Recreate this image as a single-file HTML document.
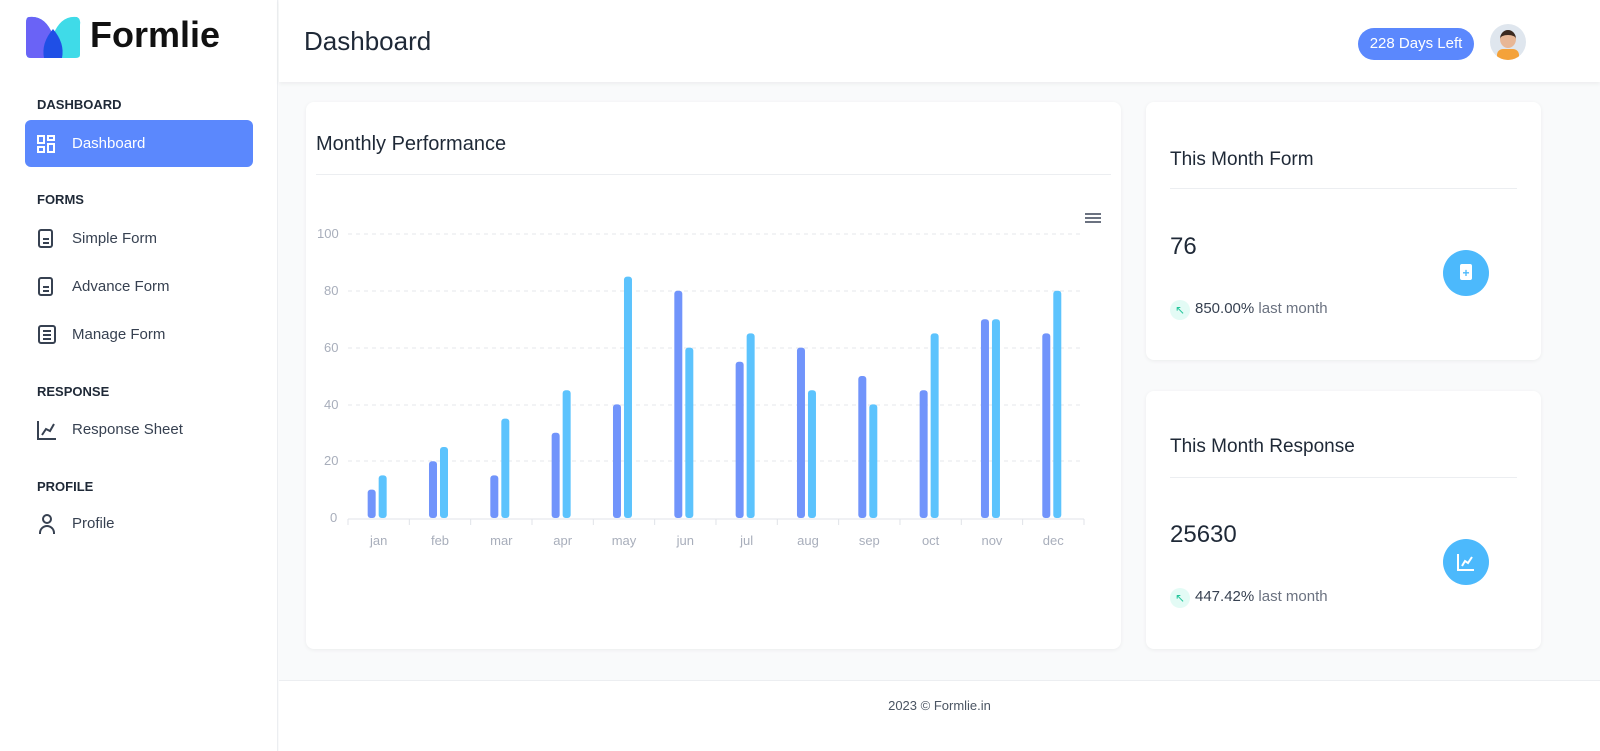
<!DOCTYPE html>
<html><head><meta charset="utf-8"><style>
*{box-sizing:border-box;margin:0;padding:0}
body{width:1600px;height:751px;background:#f9fafb;font-family:"Liberation Sans",sans-serif;position:relative;overflow:hidden;color:#1f2937}
.side{position:absolute;left:0;top:0;width:278px;height:751px;background:#fff;border-right:1px solid #eceef1}
.sec{position:absolute;left:37px;font-size:13px;font-weight:bold;color:#1f2937}
.item{position:absolute;left:25px;width:228px;height:47px;border-radius:6px;font-size:15px;color:#374151;padding-left:47px;line-height:47px}
.item.act{background:#5b88fd;color:#fff}
.ic{position:absolute;left:13px;top:14px;width:18px;height:19px;border:2px solid #374151;border-radius:3px}
.ln{position:absolute;left:3px;width:8px;height:2px;background:#374151}
.top{position:absolute;left:279px;top:0;right:0;height:82px;background:#fff;box-shadow:0 2px 4px rgba(0,0,0,.05)}
.card{position:absolute;background:#fff;border-radius:8px;box-shadow:0 1px 4px rgba(0,0,0,.06)}
.foot{position:absolute;left:279px;right:0;top:680px;height:71px;background:#fff;border-top:1px solid #eceef1;text-align:center;font-size:13px;color:#4b5563;line-height:50px}
.circ{position:absolute;width:46px;height:46px;border-radius:50%;background:#4cb9fc}
</style></head><body>
<div class="side">
 <svg style="position:absolute;left:25px;top:15px" width="56" height="44"><path d="M4 2 Q20 0 28 20 Q36 0 52 2 Q56 4 55 10 L55 40 Q55 43 50 43 L6 43 Q1 43 1 38 L1 8 Q1 2 4 2Z" fill="#3fdbe8"/><path d="M4 2 Q20 0 28 20 L28 43 L6 43 Q1 43 1 38 L1 8 Q1 2 4 2Z" fill="#6a63f6"/><path d="M28 14 Q40 28 37 43 L19 43 Q16 28 28 14Z" fill="#1f4fe6"/></svg>
 <div style="position:absolute;left:90px;top:14px;font-size:36px;font-weight:bold;color:#111">Formlie</div>
 <div class="sec" style="top:97px">DASHBOARD</div>
 <div class="item act" style="top:120px"><svg style="position:absolute;left:12px;top:15px" width="18" height="18" fill="none" stroke="#fff" stroke-width="2"><rect x="1" y="1" width="6" height="7"/><rect x="11" y="1" width="6" height="4"/><rect x="1" y="12" width="6" height="5"/><rect x="11" y="9" width="6" height="8"/></svg>Dashboard</div>
 <div class="sec" style="top:192px">FORMS</div>
 <div class="item" style="top:215px"><span class="ic" style="width:15px"><i class="ln" style="top:7px;width:6px"></i><i class="ln" style="top:11px;width:6px"></i></span>Simple Form</div>
 <div class="item" style="top:263px"><span class="ic" style="width:15px"><i class="ln" style="top:7px;width:6px"></i><i class="ln" style="top:11px;width:6px"></i></span>Advance Form</div>
 <div class="item" style="top:311px"><span class="ic"><i class="ln" style="top:3px"></i><i class="ln" style="top:7px"></i><i class="ln" style="top:11px"></i></span>Manage Form</div>
 <div class="sec" style="top:384px">RESPONSE</div>
 <div class="item" style="top:406px"><svg style="position:absolute;left:12px;top:14px" width="20" height="20" fill="none" stroke="#374151" stroke-width="2"><path d="M1 1V19H19"/><path d="M5 15L9 9L13 11L17 4"/></svg>Response Sheet</div>
 <div class="sec" style="top:479px">PROFILE</div>
 <div class="item" style="top:500px"><span class="ic" style="border:none"><span style="position:absolute;left:4px;top:0;width:10px;height:10px;border:2px solid #374151;border-radius:50%"></span><span style="position:absolute;left:1px;top:11px;width:16px;height:9px;border:2px solid #374151;border-bottom:none;border-radius:8px 8px 0 0"></span></span>Profile</div>
</div>
<div class="top">
 <div style="position:absolute;left:25px;top:26px;font-size:26px;color:#1f2937">Dashboard</div>
 <div style="position:absolute;left:1079px;top:28px;width:116px;height:32px;border-radius:16px;background:#5b88fd;color:#fff;font-size:15px;line-height:32px;text-align:center">228 Days Left</div>
 <div style="position:absolute;left:1211px;top:24px;width:36px;height:36px;border-radius:50%;background:#dfe6ee;overflow:hidden"><div style="position:absolute;left:10px;top:6px;width:16px;height:18px;border-radius:50%;background:#e8b796;border-top:5px solid #3b2a20"></div><div style="position:absolute;left:7px;top:25px;width:22px;height:14px;background:#f4a23a;border-radius:6px 6px 0 0"></div></div>
</div>
<div class="card" style="left:306px;top:102px;width:815px;height:547px">
 <div style="position:absolute;left:10px;top:31px;font-size:20px;color:#1f2937">Monthly Performance</div>
 <div style="position:absolute;left:10px;right:10px;top:72px;border-top:1px solid #eceef1"></div>
 <div style="position:absolute;left:779px;top:111px;width:16px;height:2px;background:#6b7280;box-shadow:0 4px 0 #6b7280,0 8px 0 #6b7280"></div>
</div>
<svg style="position:absolute;left:0;top:0" width="1600" height="751" font-family="Liberation Sans" font-size="13" fill="#a8aebb">
<g stroke="#e5e7eb" stroke-dasharray="4 4">
<line x1="348" x2="1084" y1="234" y2="234"/><line x1="348" x2="1084" y1="291" y2="291"/><line x1="348" x2="1084" y1="348" y2="348"/><line x1="348" x2="1084" y1="405" y2="405"/><line x1="348" x2="1084" y1="461" y2="461"/></g>
<line x1="348" x2="1084" y1="519" y2="519" stroke="#e0e3e8"/>
<g text-anchor="start"><text x="317" y="238">100</text><text x="324" y="295">80</text><text x="324" y="352">60</text><text x="324" y="409">40</text><text x="324" y="465">20</text><text x="330" y="522">0</text></g>
<g id="b"></g>
</svg>
<script>
var p=[10,20,15,30,40,80,55,60,50,45,70,65],q=[15,25,35,45,85,60,65,45,40,65,70,80],m=['jan','feb','mar','apr','may','jun','jul','aug','sep','oct','nov','dec'],s='';
for(var i=0;i<12;i++){var c=348+61.33*(i+0.5),x0=348+61.33*i;
s+='<line x1="'+x0+'" x2="'+x0+'" y1="519" y2="525" stroke="#e0e3e8"/>';
var h1=p[i]*2.84,h2=q[i]*2.84;
s+='<rect x="'+(c-11)+'" y="'+(518-h1)+'" width="8" height="'+h1+'" rx="3" fill="#7194fb"/>';
s+='<rect x="'+c+'" y="'+(518-h2)+'" width="8" height="'+h2+'" rx="3" fill="#5cc3fd"/>';
s+='<text x="'+c+'" y="545" text-anchor="middle">'+m[i]+'</text>';}
s+='<line x1="1084" x2="1084" y1="519" y2="525" stroke="#e0e3e8"/>';
document.getElementById('b').innerHTML=s;
</script>
<div class="card" style="left:1146px;top:102px;width:395px;height:258px">
 <div style="position:absolute;left:24px;top:47px;font-size:19px">This Month Form</div>
 <div style="position:absolute;left:24px;right:24px;top:86px;border-top:1px solid #eceef1"></div>
 <div style="position:absolute;left:24px;top:131px;font-size:24px">76</div>
 <div style="position:absolute;left:24px;top:198px;width:20px;height:20px;border-radius:50%;background:#e3fbf5;color:#22c59a;font-size:12px;text-align:center;line-height:20px">↖</div>
 <div style="position:absolute;left:49px;top:198px;font-size:15px;color:#374151">850.00% <span style="color:#6b7280">last month</span></div>
 <div class="circ" style="left:297px;top:148px"><div style="position:absolute;left:17px;top:14px;width:12px;height:16px;border-radius:2px;background:#fff;color:#4cb9fc;font-size:12px;font-weight:bold;text-align:center;line-height:18px">+</div></div>
</div>
<div class="card" style="left:1146px;top:391px;width:395px;height:258px">
 <div style="position:absolute;left:24px;top:45px;font-size:19px">This Month Response</div>
 <div style="position:absolute;left:24px;right:24px;top:86px;border-top:1px solid #eceef1"></div>
 <div style="position:absolute;left:24px;top:130px;font-size:24px">25630</div>
 <div style="position:absolute;left:24px;top:197px;width:20px;height:20px;border-radius:50%;background:#e3fbf5;color:#22c59a;font-size:12px;text-align:center;line-height:20px">↖</div>
 <div style="position:absolute;left:49px;top:197px;font-size:15px;color:#374151">447.42% <span style="color:#6b7280">last month</span></div>
 <div class="circ" style="left:297px;top:148px"><svg style="position:absolute;left:14px;top:14px" width="18" height="18" fill="none" stroke="#fff" stroke-width="2"><path d="M1 1V17H17"/><path d="M5 13L8 8L11 10L15 4"/></svg></div>
</div>
<div class="foot">2023 © Formlie.in</div>
</body></html>
